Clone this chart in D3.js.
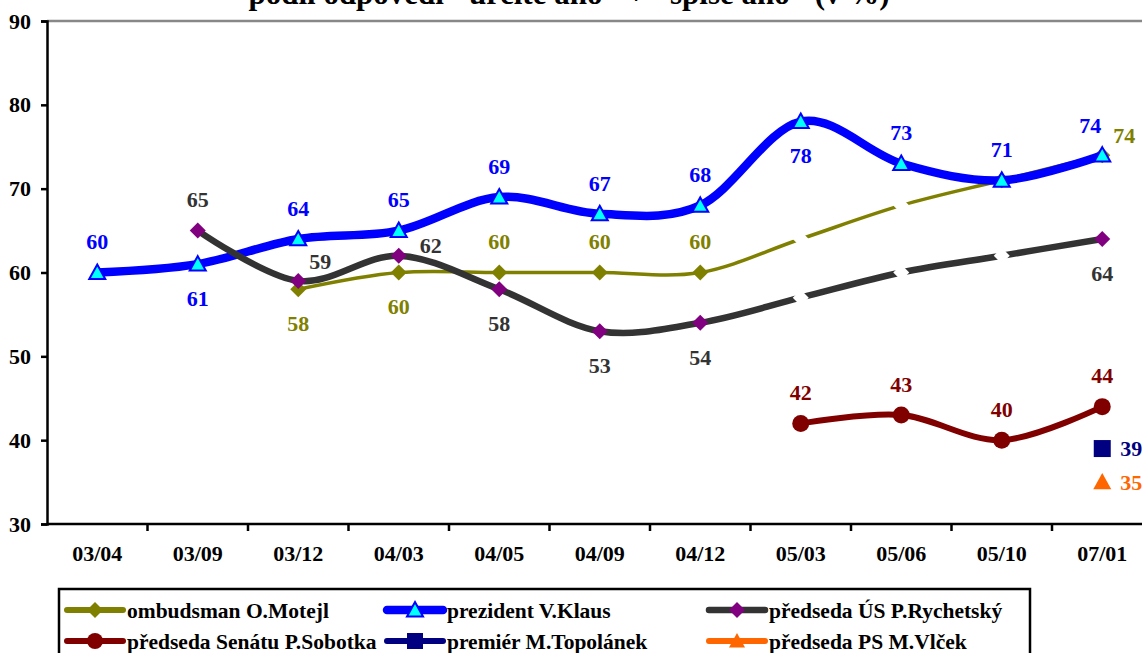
<!DOCTYPE html>
<html>
<head>
<meta charset="utf-8">
<title>Důvěra v ústavní činitele</title>
<script src="https://d3js.org/d3.v7.min.js"></script>
<style>
  body { margin: 0; background: #fff; }
  svg text { font-family: "Liberation Serif", "Times New Roman", serif; font-weight: bold; }
</style>
</head>
<body>
<svg width="1142" height="653"></svg>
<script>
// categories and values
var periods = ["03/04", "03/09", "03/12", "04/03", "04/05", "04/09", "04/12", "05/03", "05/06", "05/10", "07/01"];
var yTicks = [30, 40, 50, 60, 70, 80, 90];

var motejl    = [null, null, 58, 60, 60, 60, 60, 64, 68, 71, 74];
var klaus     = [60, 61, 64, 65, 69, 67, 68, 78, 73, 71, 74];
var rychetsky = [null, 65, 59, 62, 58, 53, 54, 57, 60, 62, 64];
var sobotka   = [null, null, null, null, null, null, null, 42, 43, 40, 44];
var topolanek = [null, null, null, null, null, null, null, null, null, null, 39];
var vlcek     = [null, null, null, null, null, null, null, null, null, null, 35];

// which points are hidden (white marker, no label) and where labels sit
var motejlHidden    = [0, 0, 0, 0, 0, 0, 0, 1, 1, 0, 0];
var rychetskyHidden = [0, 0, 0, 0, 0, 0, 0, 1, 1, 1, 0];
var motejlLab    = ["", "", "b", "b", "a", "a", "a", "", "", "", "ar"];
var klausLab     = ["a", "b", "a", "a", "a", "a", "a", "b", "a", "a", "al"];
var rychetskyLab = ["", "a", "ar", "rr", "b", "b", "b", "", "", "", "b"];
var sobotkaLab   = ["", "", "", "", "", "", "", "a", "a", "a", "a"];
var topolanekLab = ["", "", "", "", "", "", "", "", "", "", "r"];
var vlcekLab     = ["", "", "", "", "", "", "", "", "", "", "r"];

var series = [
  {name: "ombudsman O.Motejl", values: motejl, hidden: motejlHidden, lab: motejlLab,
   line: "#808000", width: 3.5, marker: "diamond", fill: "#808000", stroke: "none", text: "#808000", size: 16},
  {name: "prezident V.Klaus", values: klaus, lab: klausLab,
   line: "#0000ff", width: 8.5, marker: "triangle", fill: "#00ffff", stroke: "#0000ff", text: "#0000ff", size: 16},
  {name: "předseda ÚS P.Rychetský", values: rychetsky, hidden: rychetskyHidden, lab: rychetskyLab,
   line: "#333333", width: 6.5, marker: "diamond", fill: "#800080", stroke: "none", text: "#333333", size: 16},
  {name: "předseda Senátu P.Sobotka", values: sobotka, lab: sobotkaLab,
   line: "#800000", width: 6, marker: "circle", fill: "#800000", stroke: "none", text: "#800000", size: 17},
  {name: "premiér M.Topolánek", values: topolanek, lab: topolanekLab,
   line: "#000080", width: 6, marker: "square", fill: "#000080", stroke: "none", text: "#000080", size: 17},
  {name: "předseda PS M.Vlček", values: vlcek, lab: vlcekLab,
   line: "#ff6600", width: 6, marker: "triangle", fill: "#ff6600", stroke: "none", text: "#ff6600", size: 18}
];

var svg = d3.select("svg");
var mLeft = 47, mRight = 1152.5, mTop = 21, mBottom = 524;

var x = d3.scaleBand().domain(periods).range([mLeft, mRight]).padding(0);
var y = d3.scaleLinear().domain([30, 90]).range([mBottom, mTop]);
function cx(i) { return x(periods[i]) + x.bandwidth() / 2; }

// title (mostly cut off at the top)
svg.append("text")
  .attr("x", 569).attr("y", 4)
  .attr("text-anchor", "middle")
  .style("font-size", "31px")
  .text("podíl odpovědí \"určitě ano\" + \"spíše ano\" (v %)");

// top border line at 90
svg.append("line")
  .attr("x1", mLeft).attr("x2", 1142)
  .attr("y1", y(90)).attr("y2", y(90))
  .attr("stroke", "#888").attr("stroke-width", 2.5);

// y axis
var yAxis = svg.append("g")
  .attr("transform", "translate(" + mLeft + ",0)")
  .call(d3.axisLeft(y).tickValues(yTicks).tickSize(6).tickPadding(10));
yAxis.select(".domain").attr("stroke", "#000").attr("stroke-width", 2.5);
yAxis.selectAll(".tick line").attr("stroke-width", 2.5);
yAxis.selectAll(".tick text").style("font-size", "22px").attr("fill", "#000");

// x axis, ticks between categories
var xAxis = svg.append("g").attr("transform", "translate(0," + mBottom + ")");
xAxis.append("line")
  .attr("x1", mLeft).attr("x2", 1142)
  .attr("stroke", "#000").attr("stroke-width", 2.5);
xAxis.selectAll(".xt")
  .data(periods.slice(1))
  .enter().append("line")
  .attr("x1", function(d) { return x(d); }).attr("x2", function(d) { return x(d); })
  .attr("y1", 0).attr("y2", 7)
  .attr("stroke", "#000").attr("stroke-width", 2.5);
xAxis.selectAll(".xl")
  .data(periods)
  .enter().append("text")
  .attr("x", function(d, i) { return cx(i); })
  .attr("y", 37)
  .attr("text-anchor", "middle")
  .style("font-size", "22px")
  .text(function(d) { return d; });

function markerPath(type, size) {
  var s = size / 2;
  if (type === "diamond") return "M0," + (-s) + "L" + s + ",0L0," + s + "L" + (-s) + ",0Z";
  if (type === "triangle") return "M0," + (-s) + "L" + s + "," + (s * 0.8) + "L" + (-s) + "," + (s * 0.8) + "Z";
  if (type === "square") return "M" + (-s) + "," + (-s) + "H" + s + "V" + s + "H" + (-s) + "Z";
  return d3.symbol(d3.symbolCircle, Math.PI * s * s)();
}

var line = d3.line()
  .defined(function(d) { return d != null; })
  .x(function(d, i) { return cx(i); })
  .y(function(d) { return y(d); })
  .curve(d3.curveCatmullRom.alpha(0));

var plot = svg.append("g");

var off = {
  a:  [0, -31, "middle"],
  b:  [0, 34, "middle"],
  ar: [22, -20, "middle"],
  rr: [32, -10, "middle"],
  al: [-12, -30, "middle"],
  r:  [18, 0, "start"]
};

series.forEach(function(s) {
  var g = plot.append("g");
  g.append("path")
    .attr("d", line(s.values))
    .attr("fill", "none")
    .attr("stroke", s.line)
    .attr("stroke-width", s.width)
    .attr("stroke-linejoin", "round");

  var pts = s.values.map(function(v, i) { return {v: v, i: i, hide: s.hidden ? s.hidden[i] : 0, lab: s.lab[i]}; })
    .filter(function(d) { return d.v != null; });

  g.selectAll(".m")
    .data(pts)
    .enter().append("path")
    .attr("transform", function(d) { return "translate(" + cx(d.i) + "," + y(d.v) + ")"; })
    .attr("d", function(d) { return markerPath(s.marker, d.hide ? 16 : s.size); })
    .attr("fill", function(d) { return d.hide ? "#fff" : s.fill; })
    .attr("stroke", function(d) { return d.hide ? "none" : s.stroke; })
    .attr("stroke-width", 2);

  g.selectAll(".l")
    .data(pts.filter(function(d) { return d.lab; }))
    .enter().append("text")
    .attr("x", function(d) { return cx(d.i) + off[d.lab][0]; })
    .attr("y", function(d) { return y(d.v) + off[d.lab][1]; })
    .attr("dy", "0.35em")
    .attr("text-anchor", function(d) { return off[d.lab][2]; })
    .attr("fill", s.text)
    .style("font-size", "22px")
    .text(function(d) { return d.v; });
});

// legend
var legend = svg.append("g");
legend.append("rect")
  .attr("x", 59).attr("y", 589)
  .attr("width", 971).attr("height", 80)
  .attr("fill", "none").attr("stroke", "#000").attr("stroke-width", 2.5);

var colX = [67, 387, 709], rowY = [610, 641];
var item = legend.selectAll(".item")
  .data(series)
  .enter().append("g")
  .attr("transform", function(d, i) { return "translate(" + colX[i % 3] + "," + rowY[Math.floor(i / 3)] + ")"; });

item.append("line")
  .attr("x1", 0).attr("x2", 56)
  .attr("stroke", function(d) { return d.line; })
  .attr("stroke-width", function(d) { return Math.max(d.width, 6); })
  .attr("stroke-linecap", "round");
item.append("path")
  .attr("transform", "translate(28,0)")
  .attr("d", function(d) { return markerPath(d.marker, 16); })
  .attr("fill", function(d) { return d.fill; })
  .attr("stroke", function(d) { return d.stroke; })
  .attr("stroke-width", 2);
item.append("text")
  .attr("x", 60)
  .attr("dy", "0.35em")
  .style("font-size", "21.5px")
  .text(function(d) { return d.name; });
</script>
</body>
</html>
